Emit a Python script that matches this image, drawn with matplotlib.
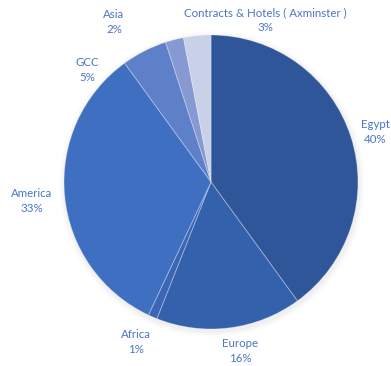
import matplotlib.pyplot as plt
from matplotlib.patches import Circle

# Sales share by region (percent), clockwise from 12 o'clock
regions = ["Egypt", "Europe", "Africa", "America", "GCC", "Asia",
           "Contracts & Hotels ( Axminster )"]
shares = [40, 16, 1, 33, 5, 2, 3]
colors = ["#30569A", "#3461AB", "#3A66B4", "#3F6FC1", "#5D80C9", "#8699D3", "#C9D1E9"]

# label anchors in pixel coords (Excel moved them off the wedges)
label_pos = [(375, 132), (240, 351), (136, 342), (32, 201), (87, 70), (114, 22), (265, 20)]

W, H = 391, 366
fig = plt.figure(figsize=(W / 100, H / 100), dpi=100)
ax = fig.add_axes([0, 0, 1, 1])

cx, cy, r = 211, H - 182, 147

# faint drop shadow like Excel
for k, a in [(6, 0.025), (4, 0.035), (2, 0.05)]:
    ax.add_patch(Circle((cx + 1, cy - 2), r + k, color="#808080", alpha=a, lw=0))

ax.pie(shares, colors=colors, startangle=90, counterclock=False,
       center=(cx, cy), radius=r, frame=True,
       wedgeprops=dict(edgecolor=(1, 1, 1, 0.3), linewidth=0.7))
ax.set_xlim(0, W)
ax.set_ylim(0, H)
ax.axis("off")

for name, v, (x, y) in zip(regions, shares, label_pos):
    ax.text(x, H - y, "%s\n%d%%" % (name, v), ha="center", va="center",
            fontsize=8.3, family="Lato", color="#4A76C4", linespacing=1.35)

fig.savefig("out.png", dpi=100)
